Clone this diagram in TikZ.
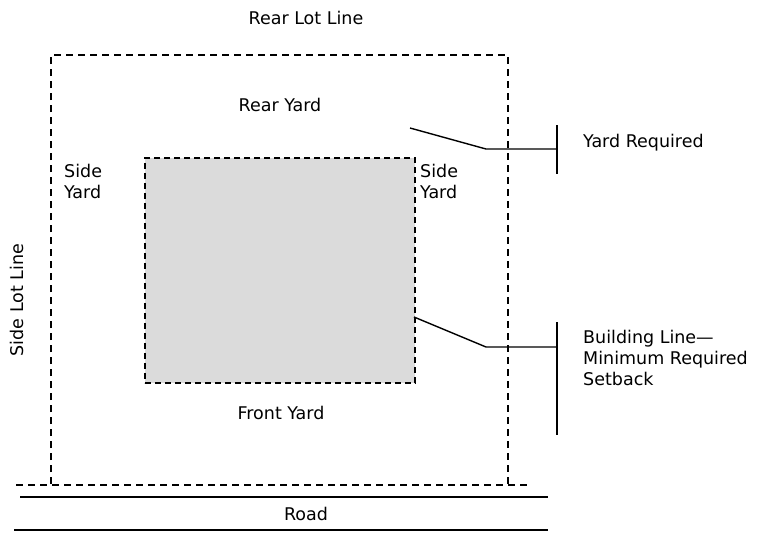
\documentclass[tikz,border=0pt]{standalone}
\usepackage{fontspec}
\setmainfont{DejaVu Sans}
\begin{document}
\begin{tikzpicture}[x=1pt,y=-1pt,
  lbl/.style={font=\fontsize{17.5}{21}\selectfont, inner sep=0pt, text=black},
  lotline/.style={line width=1.3pt, dash pattern=on 7pt off 5pt},
  bldline/.style={line width=1.8pt, dash pattern=on 6pt off 4pt, fill=black!14},
  leader/.style={line width=1.4pt},
  bar/.style={line width=1.6pt}]
\useasboundingbox (0,0) rectangle (763,533);
% lot
\coordinate (lotTL) at (51,55);
\coordinate (lotTR) at (508,55);
\coordinate (lotBR) at (508,484);
\coordinate (lotBL) at (51,484);
\draw[lotline] (lotBL) -- (lotTL) -- (lotTR) -- (lotBR);
\coordinate (bl1) at (16,485);
\coordinate (bl2) at (530,485);
\draw[lotline] (bl1) -- (bl2);
% building
\node[bldline, draw, minimum width=270pt, minimum height=225pt, anchor=north west, inner sep=0pt] (bld) at (144,157) {};
% road
\coordinate (r1a) at (20,497);
\coordinate (r1b) at (548,497);
\coordinate (r2a) at (14,530);
\coordinate (r2b) at (548,530);
\draw[line width=1.4pt] (r1a) -- (r1b);
\draw[line width=1.4pt] (r2a) -- (r2b);
\node[lbl] (road) at (306,514) {Road};
% labels
\node[lbl] (rearlot) at (306,18) {Rear Lot Line};
\node[lbl] (rearyard) at (280,105) {Rear Yard};
\node[lbl] (frontyard) at (281,413) {Front Yard};
\node[lbl, align=left, anchor=north west] (sideL) at (64,164) {Side\\Yard};
\node[lbl, align=left, anchor=north west] (sideR) at (420,164) {Side\\Yard};
\node[lbl, rotate=90] (sidelot) at (17,300) {Side Lot Line};
\node[lbl, anchor=west] (yardreq) at (583,143) {Yard Required};
\node[lbl, align=left, anchor=north west] (bline) at (583,330) {Building Line—\\Minimum Required\\Setback};
% leaders
\coordinate (y0) at (410,128);
\coordinate (y1) at (486,149);
\coordinate (y2) at (557,149);
\coordinate (yb1) at (557,125);
\coordinate (yb2) at (557,174);
\draw[leader] (y0) -- (y1) -- (y2);
\draw[bar] (yb1) -- (yb2);
\coordinate (b0) at (414,317);
\coordinate (b1) at (486,347);
\coordinate (b2) at (557,347);
\coordinate (bb1) at (557,322);
\coordinate (bb2) at (557,435);
\draw[leader] (b0) -- (b1) -- (b2);
\draw[bar] (bb1) -- (bb2);
\end{tikzpicture}
\end{document}
